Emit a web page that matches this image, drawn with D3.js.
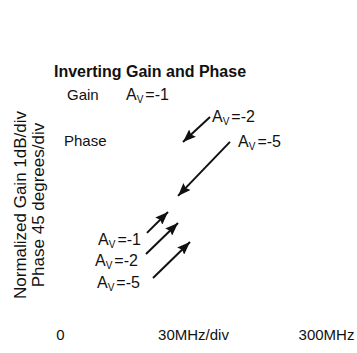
<!DOCTYPE html>
<html>
<head>
<meta charset="utf-8">
<script src="https://cdn.jsdelivr.net/npm/d3@7"></script>
<style>
  html, body { margin: 0; padding: 0; background: #fff; }
  svg { display: block; font-family: "Liberation Sans", Arial, Helvetica, sans-serif; }
</style>
</head>
<body>
<div id="chart"></div>
<script>
// ---- data ----
const title = "Inverting Gain and Phase";
const yTitleLines = ["Normalized Gain 1dB/div", "Phase 45 degrees/div"];
const xTickValues = [0, 150, 300];             // MHz
const xTickLabels = ["0", "30MHz/div", "300MHz"];

// plain text annotations (frequency in MHz, vertical position in divisions)
const plainLabels = ["Gain", "Phase"];
const plainFreq   = [7.9, 4.5];
const plainDiv    = [9.17, 7.25];

// gain annotations A_V = ...
const gainValues = ["-1", "-2", "-5", "-1", "-2", "-5"];
const gainFreq   = [74.4, 171.4, 200.8, 42.9, 39.5, 41.7];
const gainDiv    = [9.17, 8.25, 7.21, 3.125, 2.25, 1.33];

// arrows: start -> tip
const arrowFromFreq = [169.2, 191.7, 98.1, 97.0, 104.9];
const arrowFromDiv  = [8.46, 7.42, 3.63, 2.75, 1.75];
const arrowToFreq   = [138.7, 133.1, 121.8, 133.1, 146.6];
const arrowToDiv    = [7.42, 5.17, 4.5, 4.04, 3.25];

// ---- chart ----
const W = 357, H = 353;
const svg = d3.select("#chart").append("svg").attr("width", W).attr("height", H);

const x = d3.scaleLinear().domain([0, 300]).range([60, 326]);
const y = d3.scaleLinear().domain([0, 10]).range([320, 80]);

// title
svg.append("text")
  .attr("x", 54).attr("y", 77)
  .attr("font-size", 16).attr("font-weight", "bold")
  .attr("fill", "#111")
  .text(title);

// x axis labels
const xAxis = d3.axisBottom(x)
  .tickValues(xTickValues)
  .tickFormat((d, i) => xTickLabels[i])
  .tickSize(0).tickPadding(9);
const gx = svg.append("g").attr("transform", `translate(0,${y(0)})`).call(xAxis);
gx.select(".domain").remove();
gx.selectAll("text").attr("font-size", 15).attr("fill", "#111")
  .attr("font-family", "\"Liberation Sans\", Arial, Helvetica, sans-serif");

// y title (two lines, rotated)
const yMid = 205;
svg.append("g").selectAll("text").data(yTitleLines).join("text")
  .attr("transform", (d, i) => `translate(${26 + i * 18},${yMid}) rotate(-90)`)
  .attr("text-anchor", "middle")
  .attr("font-size", 17).attr("fill", "#111")
  .text(d => d);

// plain labels
svg.append("g").selectAll("text").data(plainLabels).join("text")
  .attr("x", (d, i) => x(plainFreq[i]))
  .attr("y", (d, i) => y(plainDiv[i]))
  .attr("font-size", 15).attr("fill", "#111")
  .text(d => d);

// A_V labels
const gl = svg.append("g").selectAll("text").data(gainValues).join("text")
  .attr("x", (d, i) => x(gainFreq[i]))
  .attr("y", (d, i) => y(gainDiv[i]))
  .attr("font-size", 16).attr("fill", "#111");
gl.append("tspan").text("A");
gl.append("tspan").attr("font-size", 10).attr("dy", 3).text("V");
gl.append("tspan").attr("dy", -3).attr("dx", 2).text(d => "=" + d);

// arrow marker
svg.append("defs").append("marker")
  .attr("id", "ah")
  .attr("viewBox", "0 0 13 10")
  .attr("refX", 13).attr("refY", 5)
  .attr("markerWidth", 13).attr("markerHeight", 10)
  .attr("markerUnits", "userSpaceOnUse")
  .attr("orient", "auto")
  .append("path").attr("d", "M0,0 L13,5 L0,10 L2,5 Z").attr("fill", "#111");

svg.append("g").selectAll("line").data(arrowFromFreq).join("line")
  .attr("x1", (d, i) => x(arrowFromFreq[i]))
  .attr("y1", (d, i) => y(arrowFromDiv[i]))
  .attr("x2", (d, i) => x(arrowToFreq[i]))
  .attr("y2", (d, i) => y(arrowToDiv[i]))
  .attr("stroke", "#111").attr("stroke-width", 2)
  .attr("marker-end", "url(#ah)");
</script>
</body>
</html>
